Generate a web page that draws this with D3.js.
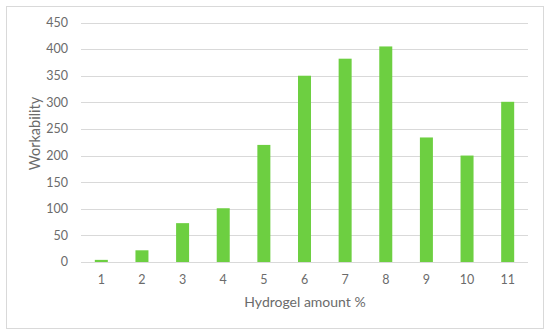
<!DOCTYPE html>
<html>
<head>
  <meta charset="utf-8">
  <title>Workability vs hydrogel amount</title>
  <script src="https://d3js.org/d3.v7.min.js"></script>
  <style>
    body { margin: 0; background: #fff; }
    text { font-family: Lato, "Open Sans", sans-serif; fill: #6b6b6b; }
  </style>
</head>
<body>
  <svg width="550" height="334"></svg>
  <script>
    const categories = ["1", "2", "3", "4", "5", "6", "7", "8", "9", "10", "11"];
    const workability = [4, 22, 73, 101, 220, 350, 382, 405, 234, 200, 301];
    const yTicks = [0, 50, 100, 150, 200, 250, 300, 350, 400, 450];

    const svg = d3.select("svg");
    const margin = { left: 81, right: 22, top: 22.5, bottom: 72 };
    const width = 550, height = 334;

    // outer frame
    svg.append("rect")
      .attr("x", 6.5).attr("y", 6.5)
      .attr("width", 537).attr("height", 322)
      .attr("fill", "#fff")
      .attr("stroke", "#d9d9d9");

    const x = d3.scaleBand()
      .domain(categories)
      .range([margin.left, width - margin.right])
      .paddingInner(0.68)
      .paddingOuter(0.34);

    const y = d3.scaleLinear()
      .domain([0, 450])
      .range([height - margin.bottom, margin.top]);

    // gridlines
    svg.append("g")
      .selectAll("line")
      .data(yTicks)
      .enter()
      .append("line")
      .attr("x1", margin.left)
      .attr("x2", width - margin.right)
      .attr("y1", d => Math.round(y(d)) + 0.5)
      .attr("y2", d => Math.round(y(d)) + 0.5)
      .attr("stroke", "#d9d9d9")
      .attr("stroke-width", 1);

    // y tick labels
    svg.append("g")
      .selectAll("text")
      .data(yTicks)
      .enter()
      .append("text")
      .attr("x", 68)
      .attr("y", d => y(d))
      .attr("dy", "0.35em")
      .attr("text-anchor", "end")
      .attr("font-size", 12.5)
      .text(d => d);

    // bars
    svg.append("g")
      .selectAll("rect")
      .data(workability)
      .enter()
      .append("rect")
      .attr("x", (d, i) => x(categories[i]))
      .attr("width", x.bandwidth())
      .attr("y", d => y(d))
      .attr("height", d => y(0) - y(d))
      .attr("fill", "#6dcf41");

    // x tick labels
    svg.append("g")
      .selectAll("text")
      .data(categories)
      .enter()
      .append("text")
      .attr("x", d => x(d) + x.bandwidth() / 2)
      .attr("y", 280)
      .attr("dy", "0.35em")
      .attr("text-anchor", "middle")
      .attr("font-size", 12.5)
      .text(d => d);

    // axis titles
    svg.append("text")
      .attr("x", 305)
      .attr("y", 302)
      .attr("dy", "0.35em")
      .attr("text-anchor", "middle")
      .attr("font-size", 14)
      .text("Hydrogel amount %");

    svg.append("text")
      .attr("transform", "translate(35,133.5) rotate(-90)")
      .attr("dy", "0.35em")
      .attr("text-anchor", "middle")
      .attr("font-size", 14.5)
      .text("Workability");
  </script>
</body>
</html>
